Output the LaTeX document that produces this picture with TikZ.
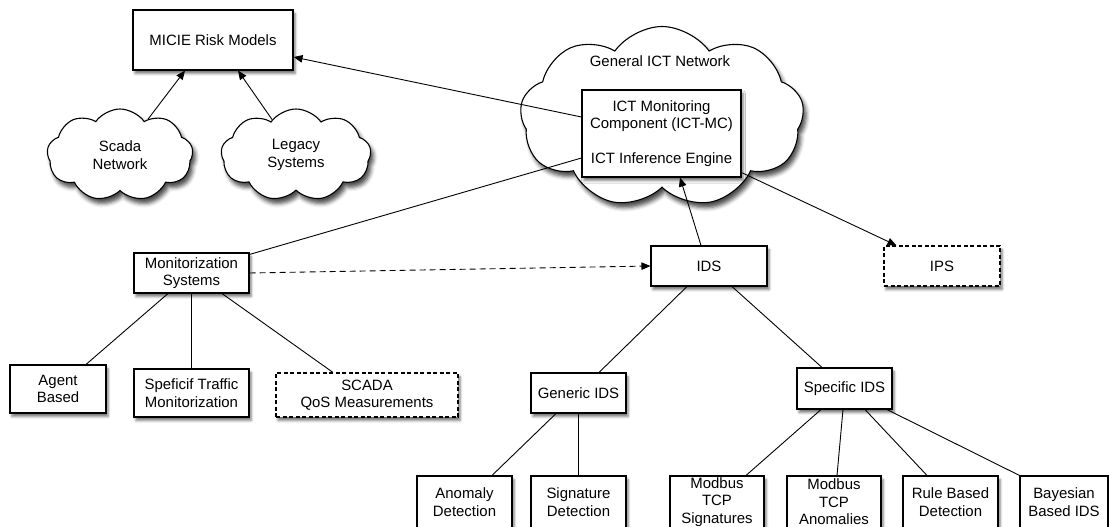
\documentclass[tikz,border=0pt]{standalone}
\usepackage{fontspec}
\setmainfont{Liberation Sans}
\usetikzlibrary{shapes.symbols,shadows.blur,arrows.meta}

\begin{document}
\begin{tikzpicture}[x=1bp,y=-1bp,
  every node/.style={font=\fontsize{15}{17.5}\selectfont},
  boxshadow/.style={blur shadow={shadow xshift=2bp,shadow yshift=-3.5bp,shadow blur radius=2.5bp,shadow opacity=55}},
  box/.style={draw,line width=1.1bp,fill=white,rectangle,inner sep=0pt,align=center,boxshadow},
  dbox/.style={box,dash pattern=on 4bp off 2.5bp},
  cloudbox/.style={cloud,cloud puffs=9,cloud puff arc=110,cloud ignores aspect,draw,line width=1.1bp,
    fill=white,inner sep=0pt,align=center,
    blur shadow={shadow xshift=3bp,shadow yshift=-5bp,shadow blur radius=4bp,shadow opacity=70}},
  link/.style={line width=0.9bp},
  arr/.style={link,-{Triangle[length=9bp,width=7.5bp]}},
  darr/.style={arr,dash pattern=on 6bp off 4bp},
  txt/.style={inner sep=0pt,align=center}]

\useasboundingbox (0,0) rectangle (1109,527);

% clouds
\node[cloudbox,minimum width=284bp,minimum height=181bp] (net) at (662,117) {};
\node[txt] (nettxt) at (660,61) {General ICT Network};
\node[cloudbox,minimum width=146bp,minimum height=92bp] (scada) at (120,155) {Scada\\Network};
\node[cloudbox,minimum width=150bp,minimum height=92bp] (legacy) at (296,155) {Legacy\\Systems};

% top boxes
\node[box,minimum width=160bp,minimum height=60bp] (micie) at (213,40) {MICIE Risk Models};
\node[box,minimum width=159bp,minimum height=87bp] (ict) at (661.5,133.5)
  {ICT Monitoring\\Component (ICT-MC)\\[17.5bp]ICT Inference Engine};

% monitorization branch
\node[box,minimum width=115bp,minimum height=40bp] (mon) at (191.5,273) {Monitorization\\Systems};
\node[box,minimum width=96bp,minimum height=48bp] (agent) at (58,389) {Agent\\Based};
\node[box,minimum width=115bp,minimum height=48bp] (traffic) at (191.5,393) {Speficif Traffic\\Monitorization};
\node[dbox,minimum width=182bp,minimum height=44bp] (qos) at (367,395) {SCADA\\QoS Measurements};

% IDS branch
\node[box,minimum width=116bp,minimum height=40bp] (ids) at (709,266) {IDS};
\node[dbox,minimum width=116bp,minimum height=40bp] (ips) at (942,266) {IPS};
\node[box,minimum width=95bp,minimum height=40bp] (generic) at (578.5,393) {Generic IDS};
\node[box,minimum width=95bp,minimum height=41bp] (specific) at (844.5,388.5) {Specific IDS};

% leaves
\node[box,minimum width=95bp,minimum height=52bp] (anomaly) at (464.5,502) {Anomaly\\Detection};
\node[box,minimum width=95bp,minimum height=52bp] (signature) at (578.5,502) {Signature\\Detection};
\node[box,minimum width=94bp,minimum height=52bp] (msig) at (717,502) {Modbus\\TCP\\Signatures};
\node[box,minimum width=94bp,minimum height=52bp] (manom) at (834,502) {Modbus\\TCP\\Anomalies};
\node[box,minimum width=95bp,minimum height=52bp] (rule) at (950.5,502) {Rule Based\\Detection};
\node[box,minimum width=88bp,minimum height=52bp] (bayes) at (1064,502) {Bayesian\\Based IDS};

% connectors
\draw[arr] ([yshift=16.5bp]ict.west) -- ([yshift=-17bp]micie.east);
\draw[arr] (scada.52) -- ([xshift=-28bp]micie.south);
\draw[arr] (legacy.124) -- ([xshift=25bp]micie.south);
\draw[link] ([yshift=-2bp]mon.north east) -- ([yshift=-24.5bp]ict.west);
\draw[darr] (mon.east) -- (ids.west);
\draw[arr] ([xshift=-8bp]ids.north) -- ([xshift=18.5bp]ict.south);
\draw[arr] ([yshift=5bp]ict.south east) -- ([xshift=13bp]ips.north west);

\draw[link] ([xshift=-23.5bp]mon.south) -- ([xshift=28bp]agent.north);
\draw[link] (mon.south) -- (traffic.north);
\draw[link] ([xshift=30.5bp]mon.south) -- ([xshift=-34bp]qos.north);

\draw[link] ([xshift=-22bp]ids.south) -- ([xshift=20.5bp]generic.north);
\draw[link] ([xshift=23bp]ids.south) -- ([xshift=-22.5bp]specific.north);

\draw[link] ([xshift=-22.5bp]generic.south) -- ([xshift=27.5bp]anomaly.north);
\draw[link] (generic.south) -- (signature.north);

\draw[link] ([xshift=-23.5bp]specific.south) -- ([xshift=29bp]msig.north);
\draw[link] ([xshift=-1.5bp]specific.south) -- ([xshift=3bp]manom.north);
\draw[link] ([xshift=20.5bp]specific.south) -- ([xshift=-23.5bp]rule.north);
\draw[link] ([xshift=42.5bp]specific.south) -- (bayes.north west);
\end{tikzpicture}
\end{document}
